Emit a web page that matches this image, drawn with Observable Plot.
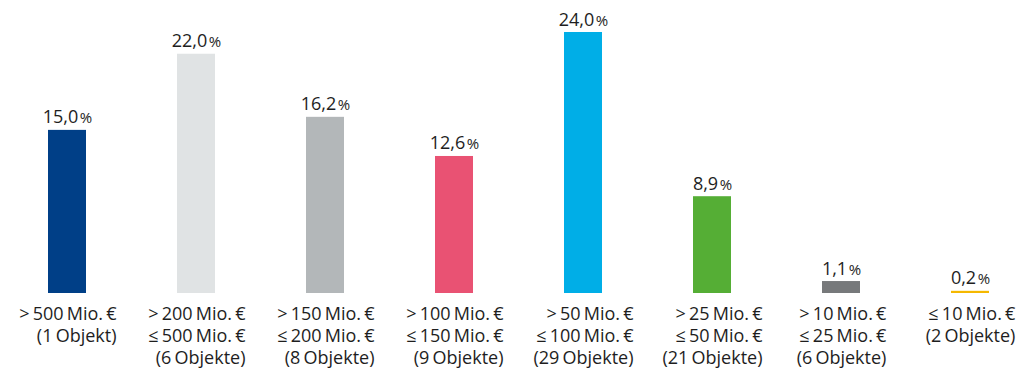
<!DOCTYPE html>
<html>
<head>
<meta charset="utf-8">
<script src="https://cdn.jsdelivr.net/npm/d3@7"></script>
<script src="https://cdn.jsdelivr.net/npm/@observablehq/plot@0.6"></script>
<style>
  html, body { margin: 0; padding: 0; background: #fff; overflow: hidden; }
  #chart svg { display: block; }
  .cat-label text { word-spacing: -1.5px; }
</style>
</head>
<body>
<div id="chart"></div>
<script>
// Volume classes (tick labels, line by line)
const ranges = [
  "> 500 Mio. €",
  "> 200 Mio. €\n≤ 500 Mio. €",
  "> 150 Mio. €\n≤ 200 Mio. €",
  "> 100 Mio. €\n≤ 150 Mio. €",
  "> 50 Mio. €\n≤ 100 Mio. €",
  "> 25 Mio. €\n≤ 50 Mio. €",
  "> 10 Mio. €\n≤ 25 Mio. €",
  "≤ 10 Mio. €"
];
const objectCounts = [
  "(1 Objekt)", "(6 Objekte)", "(8 Objekte)", "(9 Objekte)",
  "(29 Objekte)", "(21 Objekte)", "(6 Objekte)", "(2 Objekte)"
];
// Share of transaction volume, in percent
const shares = [15.0, 22.0, 16.2, 12.6, 24.0, 8.9, 1.1, 0.2];
const colors = ["#003f87", "#e0e3e4", "#b3b7b9", "#e95273", "#00aee7", "#55ae35", "#77797b", "#f5b800"];

const labels = ranges.map((r, i) => r + "\n" + objectCounts[i]);
const rows = labels.map((label, i) => ({label, share: shares[i], color: colors[i]}));
const fmt = v => v.toFixed(1).replace(".", ",");

const font = "'Open Sans', 'Noto Sans', sans-serif";
const ink = "#1e1e1e";

const chart = Plot.plot({
  width: 1016,
  height: 370,
  marginTop: 32,
  marginBottom: 77,
  marginLeft: 0,
  marginRight: 0,
  style: {fontFamily: font, background: "#fff", overflow: "hidden"},
  x: {type: "band", domain: labels, range: [0, 1036], paddingInner: 0.707, paddingOuter: 0.347, axis: null},
  y: {domain: [0, 24], axis: null},
  marks: [
    Plot.barY(rows, {x: "label", y: "share", fill: "color"}),
    Plot.text(rows, {
      x: "label", y: "share", text: d => fmt(d.share),
      lineAnchor: "bottom", dy: -7, fontSize: 18, fill: ink, className: "val-label"
    }),
    Plot.text(rows, {
      x: "label", y: () => 0, text: "label",
      lineAnchor: "top", lineHeight: 1.22, dy: 11, fontSize: 18, fill: ink, className: "cat-label"
    })
  ]
});

document.getElementById("chart").appendChild(chart);

// Percent sign in a slightly smaller size after each value
chart.querySelectorAll(".val-label text").forEach(t => {
  const ts = document.createElementNS("http://www.w3.org/2000/svg", "tspan");
  ts.setAttribute("dx", "1.5");
  ts.setAttribute("font-size", "15");
  ts.textContent = "%";
  t.appendChild(ts);
});

// Category lines right-aligned to each other, block centred under its bar
chart.querySelectorAll(".cat-label text").forEach(t => {
  const w = t.getBBox().width;
  t.setAttribute("text-anchor", "end");
  t.setAttribute("transform", (t.getAttribute("transform") || "") + ` translate(${w / 2},0)`);
});
</script>
</body>
</html>
